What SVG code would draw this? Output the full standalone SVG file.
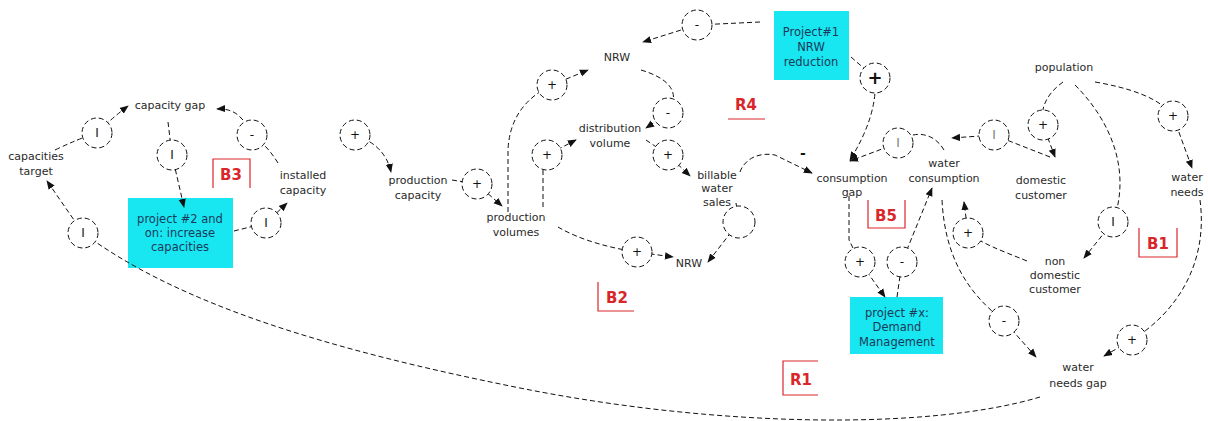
<svg xmlns="http://www.w3.org/2000/svg" width="1208" height="421" viewBox="0 0 1208 421">
<style>
.t{font-family:"DejaVu Sans","Liberation Sans",sans-serif;font-size:11px;fill:#2a2a2a;text-anchor:middle}
.bx{fill:#18e6f0}
.bt{font-family:"DejaVu Sans","Liberation Sans",sans-serif;font-size:11.5px;fill:#1a3a5a;text-anchor:middle}
.c{fill:none;stroke:#111;stroke-width:1;stroke-dasharray:5,3}
.p{fill:#fff;stroke:#111;stroke-width:1;stroke-dasharray:5,3}
.pl{font-family:"DejaVu Sans","Liberation Sans",sans-serif;font-size:12px;fill:#111;text-anchor:middle}
.lp{fill:none;stroke:#d9262b;stroke-width:1.2}
.lt{font-family:"DejaVu Sans","Liberation Sans",sans-serif;font-size:15px;font-weight:bold;fill:#d9262b;text-anchor:middle}
</style>
<defs>
<marker id="ah" viewBox="0 0 10 10" refX="9" refY="5" markerWidth="9" markerHeight="9" markerUnits="userSpaceOnUse" orient="auto">
<path d="M0,1 L10,5 L0,9 z" fill="#111"/>
</marker>
</defs>
<rect width="1208" height="421" fill="#fff"/>

<g id="boxes">
<g id="project2"><rect class="bx" x="128" y="198" width="105" height="70"/>
<text class="bt" x="180" y="223">project #2 and</text><text class="bt" x="180" y="237">on: increase</text><text class="bt" x="180" y="251">capacities</text></g>
<g id="project1"><rect class="bx" x="774" y="11" width="75" height="69"/>
<text class="bt" x="811" y="36">Project#1</text><text class="bt" x="811" y="51">NRW</text><text class="bt" x="811" y="66">reduction</text></g>
<g id="projectx"><rect class="bx" x="850" y="297" width="93" height="57"/>
<text class="bt" x="897" y="317">project #x:</text><text class="bt" x="897" y="331">Demand</text><text class="bt" x="897" y="346">Management</text></g>
</g>

<g id="connectors">
<path class="c" d="M55,150 Q80,138 97,133 Q112,118 128,106" marker-end="url(#ah)"/>
<path class="c" d="M168,122 L172,155 L184,207" marker-end="url(#ah)"/>
<path class="c" d="M278,163 C270,150 262,142 252,135 C244,118 235,108 217,109" marker-end="url(#ah)"/>
<path class="c" d="M234,231 L266,223 L287,203" marker-end="url(#ah)"/>
<path class="c" d="M1040,397 C930,430 720,428 520,388 C330,350 180,305 83,233 L47,181" marker-end="url(#ah)"/>
<path class="c" d="M355,135 Q385,145 391,172" marker-end="url(#ah)"/>
<path class="c" d="M452,180 L477,184 L502,206" marker-end="url(#ah)"/>
<path class="c" d="M508,212 L508,150 Q510,105 552,85 L588,70" marker-end="url(#ah)"/>
<path class="c" d="M543,207 L543,170 L547,155 L576,140" marker-end="url(#ah)"/>
<path class="c" d="M641,70 C668,78 682,92 668,113 L646,128" marker-end="url(#ah)"/>
<path class="c" d="M646,140 L668,155 L690,176" marker-end="url(#ah)"/>
<path class="c" d="M558,227 C580,240 610,248 637,252 L673,257" marker-end="url(#ah)"/>
<path class="c" d="M736,203 L739,222 L708,262" marker-end="url(#ah)"/>
<path class="c" d="M760,22 L697,25 L643,42" marker-end="url(#ah)"/>
<path class="c" d="M851,57 L875,78 Q878,115 850,160" marker-end="url(#ah)"/>
<path class="c" d="M740,172 C745,158 760,152 775,155 L812,173" marker-end="url(#ah)"/>
<path class="c" d="M944,150 C935,134 915,128 898,143 L850,161" marker-end="url(#ah)"/>
<path class="c" d="M849,196 L849,240 L860,262 L885,297" marker-end="url(#ah)"/>
<path class="c" d="M897,297 L902,262 L932,188" marker-end="url(#ah)"/>
<path class="c" d="M1050,157 L994,135 L952,138" marker-end="url(#ah)"/>
<path class="c" d="M1063,82 C1045,95 1040,110 1043,125 L1055,157" marker-end="url(#ah)"/>
<path class="c" d="M1095,82 C1130,88 1160,98 1173,116 L1192,168" marker-end="url(#ah)"/>
<path class="c" d="M1075,85 C1110,120 1132,170 1113,222 L1084,258" marker-end="url(#ah)"/>
<path class="c" d="M1027,261 C1000,250 985,245 968,233 L964,202" marker-end="url(#ah)"/>
<path class="c" d="M942,200 C945,260 970,295 1004,321 L1036,357" marker-end="url(#ah)"/>
<path class="c" d="M1200,200 C1208,260 1180,310 1132,340 L1104,356" marker-end="url(#ah)"/>
<text class="pl" x="803" y="158" style="font-weight:bold;font-size:14px">-</text>

<circle class="p" cx="97" cy="133" r="15"/><text class="pl" x="97" y="137">I</text>
<circle class="p" cx="172" cy="155" r="15"/><text class="pl" x="172" y="159">I</text>
<circle class="p" cx="252" cy="135" r="15"/><text class="pl" x="252" y="139">-</text>
<circle class="p" cx="266" cy="223" r="15"/><text class="pl" x="266" y="227">I</text>
<circle class="p" cx="83" cy="233" r="15"/><text class="pl" x="83" y="237">I</text>
<circle class="p" cx="355" cy="135" r="15"/><text class="pl" x="355" y="139">+</text>
<circle class="p" cx="477" cy="184" r="15"/><text class="pl" x="477" y="188">+</text>
<circle class="p" cx="552" cy="85" r="15"/><text class="pl" x="552" y="89">+</text>
<circle class="p" cx="547" cy="155" r="15"/><text class="pl" x="547" y="159">+</text>
<circle class="p" cx="668" cy="113" r="15"/><text class="pl" x="668" y="117">-</text>
<circle class="p" cx="668" cy="155" r="15"/><text class="pl" x="668" y="159">+</text>
<circle class="p" cx="637" cy="252" r="15"/><text class="pl" x="637" y="256">+</text>
<circle class="p" cx="739" cy="222" r="16"/>
<circle class="p" cx="697" cy="25" r="15"/><text class="pl" x="697" y="29">-</text>
<circle class="p" cx="875" cy="78" r="15"/><text class="pl" x="875" y="84" style="font-weight:bold;font-size:18px">+</text>
<circle class="p" cx="898" cy="143" r="15"/><text class="pl" x="898" y="147" style="fill:#777">I</text>
<circle class="p" cx="860" cy="262" r="15"/><text class="pl" x="860" y="266">+</text>
<circle class="p" cx="902" cy="262" r="15"/><text class="pl" x="902" y="266">-</text>
<circle class="p" cx="994" cy="135" r="15"/><text class="pl" x="994" y="139" style="fill:#777">I</text>
<circle class="p" cx="1043" cy="125" r="15"/><text class="pl" x="1043" y="129">+</text>
<circle class="p" cx="1173" cy="116" r="15"/><text class="pl" x="1173" y="120">+</text>
<circle class="p" cx="1113" cy="222" r="15"/><text class="pl" x="1113" y="226">I</text>
<circle class="p" cx="968" cy="233" r="15"/><text class="pl" x="968" y="237">+</text>
<circle class="p" cx="1004" cy="321" r="15"/><text class="pl" x="1004" y="325">-</text>
<circle class="p" cx="1132" cy="340" r="15"/><text class="pl" x="1132" y="344">+</text>
</g>

<g id="nodes">
<g id="capacity-gap"><text class="t" x="170" y="109">capacity gap</text></g>
<g id="capacities-target"><text class="t" x="36" y="160">capacities</text><text class="t" x="36" y="175">target</text></g>
<g id="installed-capacity"><text class="t" x="303" y="179">installed</text><text class="t" x="303" y="194">capacity</text></g>
<g id="production-capacity"><text class="t" x="418" y="184">production</text><text class="t" x="418" y="199">capacity</text></g>
<g id="production-volumes"><text class="t" x="516" y="221">production</text><text class="t" x="516" y="236">volumes</text></g>
<g id="nrw-top"><text class="t" x="617" y="61">NRW</text></g>
<g id="distribution-volume"><text class="t" x="610" y="132">distribution</text><text class="t" x="610" y="147">volume</text></g>
<g id="billable-water-sales"><text class="t" x="717" y="179">billable</text><text class="t" x="717" y="192">water</text><text class="t" x="717" y="206">sales</text></g>
<g id="nrw-bottom"><text class="t" x="689" y="267">NRW</text></g>
<g id="consumption-gap"><text class="t" x="852" y="182">consumption</text><text class="t" x="852" y="196">gap</text></g>
<g id="water-consumption"><text class="t" x="944" y="167">water</text><text class="t" x="944" y="182">consumption</text></g>
<g id="population"><text class="t" x="1064" y="71">population</text></g>
<g id="domestic-customer"><text class="t" x="1041" y="184">domestic</text><text class="t" x="1041" y="199">customer</text></g>
<g id="water-needs"><text class="t" x="1187" y="181">water</text><text class="t" x="1187" y="196">needs</text></g>
<g id="non-domestic-customer"><text class="t" x="1055" y="265">non</text><text class="t" x="1055" y="279">domestic</text><text class="t" x="1055" y="293">customer</text></g>
<g id="water-needs-gap"><text class="t" x="1078" y="371">water</text><text class="t" x="1078" y="387">needs gap</text></g>
</g>

<g id="loops">
<path class="lp" d="M213,188 L213,159 L250,159 L250,188"/><text class="lt" x="231" y="180">B3</text>
<path class="lp" d="M598,282 L598,311 L634,311"/><text class="lt" x="617" y="303">B2</text>
<path class="lp" d="M728,119 L765,119"/><text class="lt" x="746" y="110">R4</text>
<path class="lp" d="M868,200 L868,228 L905,228 L905,200"/><text class="lt" x="886" y="221">B5</text>
<path class="lp" d="M1139,228 L1139,257 L1177,257 L1177,228"/><text class="lt" x="1158" y="249">B1</text>
<path class="lp" d="M818,361 L783,361 L783,395 L818,395"/><text class="lt" x="801" y="385">R1</text>
</g>
</svg>
